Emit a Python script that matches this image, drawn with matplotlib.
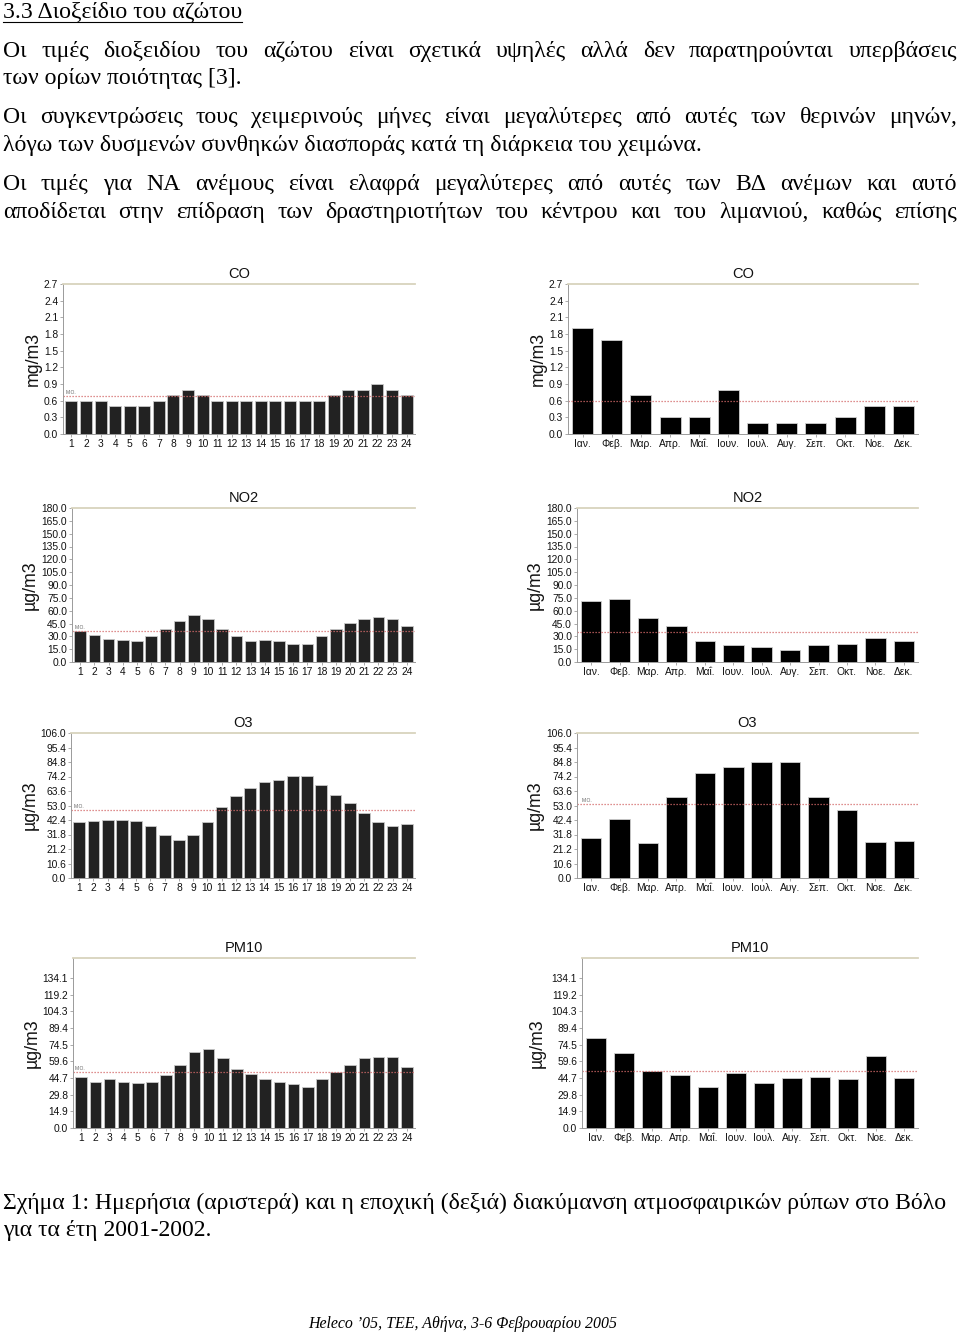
import matplotlib
matplotlib.use("Agg")
import matplotlib.pyplot as plt
from matplotlib.lines import Line2D

W, H = 960, 1333

hours = list(range(1, 25))
months = ["Ιαν.", "Φεβ.", "Μαρ.", "Απρ.", "Μαΐ.", "Ιουν.",
          "Ιουλ.", "Αυγ.", "Σεπ.", "Οκτ.", "Νοε.", "Δεκ."]

co_hour = [0.6, 0.6, 0.6, 0.5, 0.5, 0.5, 0.6, 0.7, 0.8, 0.7, 0.6, 0.6,
           0.6, 0.6, 0.6, 0.6, 0.6, 0.6, 0.7, 0.8, 0.8, 0.9, 0.8, 0.7]
co_month = [1.9, 1.7, 0.7, 0.3, 0.3, 0.8, 0.2, 0.2, 0.2, 0.3, 0.5, 0.5]
co_means = (0.68, 0.6)

no2_hour = [36.6, 31, 27, 26, 25, 30, 38.5, 47.5, 55, 50.5, 38.5, 30,
            25, 26, 25, 21.5, 21.5, 30, 38.5, 46, 50, 53, 50, 42]
no2_month = [71.6, 73.5, 51.7, 41.6, 25, 19.5, 18, 13.6, 19.5, 21, 28.4, 25]
no2_means = (36.5, 35)

o3_hour = [40.7, 42, 42.7, 42.7, 42, 37.8, 31.5, 27.6, 31.5, 40.7, 52, 59.8,
           65.9, 70, 71.7, 74.9, 74.4, 67.8, 60.5, 54.6, 47.8, 40.7, 38.3, 39.5]
o3_month = [29.3, 43.4, 25.4, 59.3, 76.6, 81.5, 85, 85, 59.3, 49.8, 26.3, 27.3]
o3_means = (50.0, 54.4)

pm_hour = [45.8, 41.3, 43.4, 41.3, 39.8, 41.3, 47, 56.3, 68.3, 70.4, 62.3, 52.4,
           48.2, 43.4, 41.3, 38.9, 36.8, 43.4, 50.3, 56.3, 62.3, 63.2, 63.2, 54.8]
pm_month = [80.2, 66.8, 51.2, 47.3, 36.8, 49.4, 39.8, 44.3, 45.8, 43.4, 64.1, 44.9]
pm_means = (50.3, 50.9)

co_ticks = ["0.0", "0.3", "0.6", "0.9", "1.2", "1.5", "1.8", "2.1", "2.4", "2.7"]
no2_ticks = ["%.1f" % (15 * i) for i in range(13)]
o3_ticks = ["%.1f" % (10.6 * i) for i in range(11)]
pm_ticks = ["%.1f" % (14.9 * i) for i in range(10)]

text_lines = [
    ("Οι τιμές διοξειδίου του αζώτου είναι σχετικά υψηλές αλλά δεν παρατηρούνται υπερβάσεις", 57, True),
    ("των ορίων ποιότητας [3].", 84, False),
    ("Οι συγκεντρώσεις τους χειμερινούς μήνες είναι μεγαλύτερες από αυτές των θερινών μηνών,", 123, True),
    ("λόγω των δυσμενών συνθηκών διασποράς κατά τη διάρκεια του χειμώνα.", 151, False),
    ("Οι τιμές για ΝΑ ανέμους είναι ελαφρά μεγαλύτερες από αυτές των ΒΔ ανέμων και αυτό", 190, True),
    ("αποδίδεται στην επίδραση των δραστηριοτήτων του κέντρου και του λιμανιού, καθώς επίσης", 218, True),
]
caption = ["Σχήμα 1: Ημερήσια (αριστερά) και η εποχική (δεξιά) διακύμανση ατμοσφαιρικών ρύπων στο Βόλο",
           "για τα έτη 2001-2002."]
footer = "Heleco ’05, ΤΕΕ, Αθήνα, 3-6 Φεβρουαρίου 2005"

fig = plt.figure(figsize=(W / 100, H / 100), dpi=100)
renderer = fig.canvas.get_renderer()
SERIF = "Liberation Serif"
BODY = 17.1


def put(x, y, s, **kw):
    return fig.text(x / W, 1 - y / H, s, va="baseline", **kw)


def width_of(s, **kw):
    t = put(0, 0, s, **kw)
    w = t.get_window_extent(renderer).width
    t.remove()
    return w


def justify(s, y, x0=3, x1=957, **kw):
    words = s.split()
    ws = [width_of(w, **kw) for w in words]
    gap = (x1 - x0 - sum(ws)) / (len(words) - 1)
    x = x0
    for w, wd in zip(words, ws):
        put(x, y, w, **kw)
        x += wd + gap


# heading, underlined
head = "3.3 Διοξείδιο του αζώτου"
put(3, 18, head, family=SERIF, fontsize=BODY)
hw = width_of(head, family=SERIF, fontsize=BODY)
fig.add_artist(Line2D([3 / W, (3 + hw) / W], [1 - 21.5 / H, 1 - 21.5 / H], color="black", lw=0.8))

for s, y, just in text_lines:
    if just:
        justify(s, y, family=SERIF, fontsize=BODY)
    else:
        put(3, y, s, family=SERIF, fontsize=BODY)

put(3, 1209, caption[0], family=SERIF, fontsize=BODY)
put(3, 1236, caption[1], family=SERIF, fontsize=BODY)
put(463, 1328, footer, family=SERIF, fontsize=11.4, style="italic", ha="center")


def panel(box, vals, labels, mean, ticks, ytop, unit, title, monthly, mo_label, label_x):
    l, t, r, b = box
    ax = fig.add_axes([l / W, 1 - b / H, (r - l) / W, (b - t) / H])
    x = list(range(1, len(vals) + 1))
    if monthly:
        ax.bar(x, vals, width=0.72, color="black", edgecolor="#cfcfcf", linewidth=0.6)
        ax.set_xlim(0.5, 12.5)
    else:
        ax.bar(x, vals, width=0.82, color="#222222", edgecolor="#c8c8c8", linewidth=0.6)
        ax.set_xlim(0.42, 24.58)
    ax.axhline(mean, color="#d46a6a", ls=(0, (1, 1.4)), lw=0.9)
    if mo_label:
        ax.text(ax.get_xlim()[0] + 0.15, mean + ytop * 0.012, "M.O.",
                fontsize=3.6, color="#666666", family="Liberation Sans")
    ax.set_ylim(0, ytop)
    ax.set_yticks([float(s) for s in ticks])
    ax.set_yticklabels(ticks)
    ax.set_xticks(x)
    ax.set_xticklabels(labels)
    for lab in ax.get_xticklabels() + ax.get_yticklabels():
        lab.set_family("Liberation Sans")
        lab.set_fontsize(7.4)
        lab.set_color("#111111")
    ax.tick_params(axis="both", length=2, width=0.5, color="#888888", pad=1.5)
    ax.spines["right"].set_visible(False)
    ax.spines["top"].set_color("#d8d3bd")
    ax.spines["top"].set_linewidth(1.3)
    for side in ("left", "bottom"):
        ax.spines[side].set_color("#9a9a9a")
        ax.spines[side].set_linewidth(0.7)
    ax.set_title(title, family="Liberation Sans", fontsize=10.5, pad=4, color="#111111")
    ax.set_ylabel(unit, family="Liberation Sans", fontsize=12.8, color="#111111")
    ax.yaxis.set_label_coords((label_x - l) / (r - l), 0.5)
    return ax


rows = [
    (284, 434, co_hour, co_month, co_means, co_ticks, 2.7, "mg/m3", "CO", (63, 568), False, 42),
    (508, 662, no2_hour, no2_month, no2_means, no2_ticks, 180, "µg/m3", "NO2", (72, 577), False, 39),
    (733, 878, o3_hour, o3_month, o3_means, o3_ticks, 106, "µg/m3", "O3", (71, 577), True, 39),
    (958, 1128, pm_hour, pm_month, pm_means, pm_ticks, 152, "µg/m3", "PM10", (73, 582), False, 41),
]
for t, b, vh, vm, means, ticks, ytop, unit, title, lefts, mo_right, lab_x in rows:
    panel((lefts[0], t, 415, b), vh, [str(h) for h in hours], means[0], ticks, ytop,
          unit, title, False, True, lab_x)
    panel((lefts[1], t, 918, b), vm, months, means[1], ticks, ytop,
          unit, title, True, mo_right, lab_x + 505)

fig.savefig("out.png", dpi=100, facecolor="white")
